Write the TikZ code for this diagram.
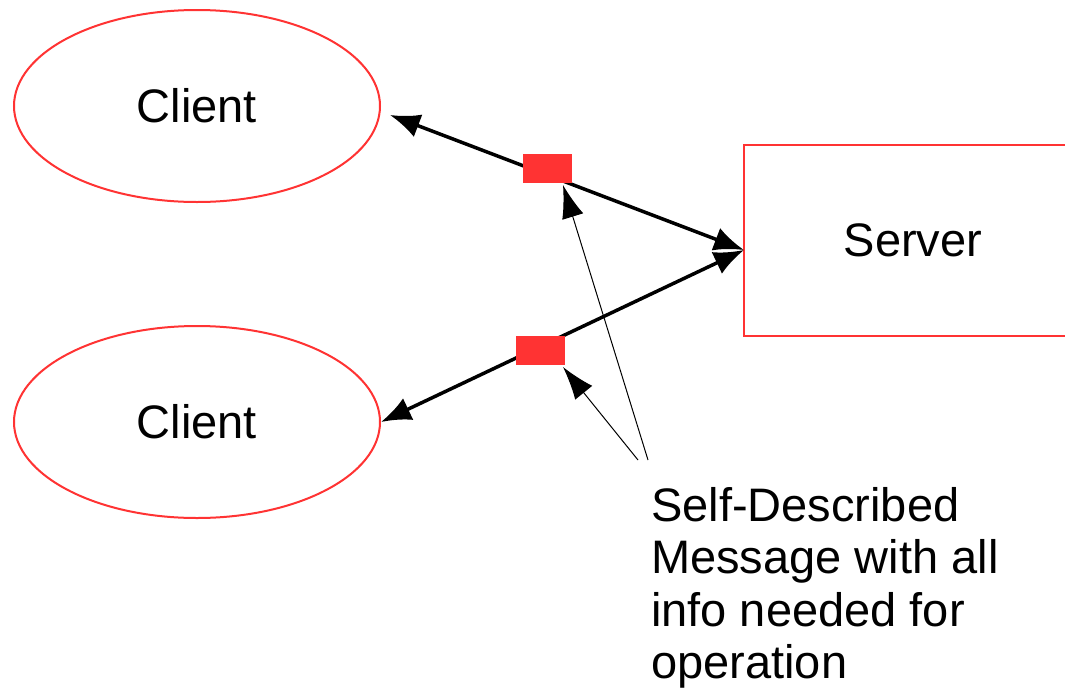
\documentclass[tikz,border=0pt]{standalone}
\usepackage{fontspec}
\setmainfont{Liberation Sans}
\usetikzlibrary{shapes.geometric,arrows.meta}
\definecolor{lred}{HTML}{FF3333}
\tikzset{
  clientnode/.style={ellipse, draw=lred, line width=2pt, minimum width=366pt, minimum height=192pt, inner sep=0pt, font=\fontsize{47}{52}\selectfont},
  servernode/.style={rectangle, draw=lred, line width=2pt, minimum width=338pt, minimum height=191pt, inner sep=0pt, font=\fontsize{47}{52}\selectfont},
  msgbox/.style={rectangle, fill=lred, minimum width=49pt, minimum height=29pt, inner sep=0pt},
  thickarrow/.style={line width=3.5pt, {Latex[length=30pt,width=24pt]}-{Latex[length=30pt,width=24pt]}, shorten <=0pt, shorten >=0pt},
  thinarrow/.style={line width=1pt, -{Latex[length=33pt,width=22pt]}},
  labelnode/.style={align=left, inner sep=0pt, font=\fontsize{47}{52.5}\selectfont}
}
\begin{document}
\begin{tikzpicture}[x=1pt,y=-1pt]
\useasboundingbox (0,0) rectangle (1065,691);
\node[clientnode] (c1) at (197,106) {Client};
\node[clientnode] (c2) at (197,422) {Client};
\node[servernode] (srv) at (913,240.5) {Server};
\coordinate (c1tip) at (390,115);
\coordinate (srvin) at (744,250);
\draw[thickarrow] (c1tip) -- (srvin);
\draw[thickarrow] (c2.east) -- (srvin);
\node[msgbox] (m1) at (547.5,168.5) {};
\node[msgbox] (m2) at (540.5,350.5) {};
\coordinate (t1) at (563,185);
\coordinate (t2) at (563,367);
\coordinate (s1) at (648,460);
\coordinate (s2) at (638,460);
\draw[thinarrow] (s1) -- (t1);
\draw[thinarrow] (s2) -- (t2);
\node[labelnode, anchor=base west] (lbl) at (651,678.5) {Self-Described\\Message with all\\info needed for\\operation};
\end{tikzpicture}
\end{document}
